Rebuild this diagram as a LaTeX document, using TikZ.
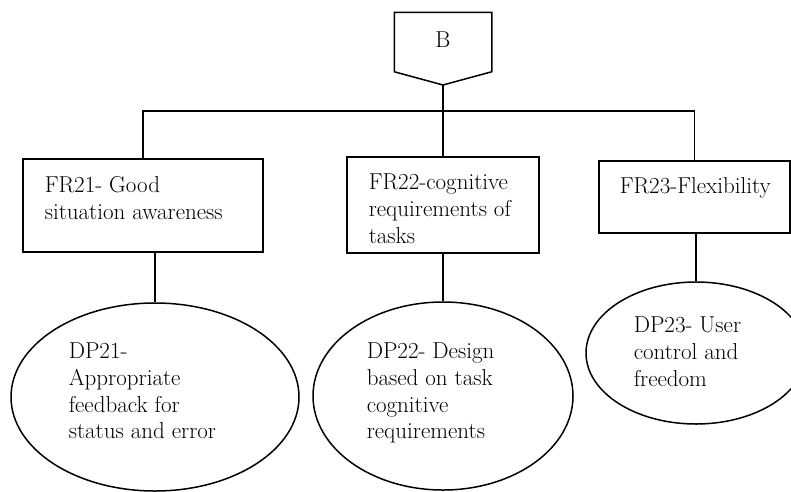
\documentclass[tikz,border=0pt]{standalone}
\usetikzlibrary{shapes.geometric}

\begin{document}
\begin{tikzpicture}[x=1pt, y=-1pt, line width=1.5pt,
  frbox/.style={draw, rectangle, inner sep=0pt},
  dpell/.style={draw, ellipse, inner sep=0pt},
  lbl/.style={inner sep=0pt, anchor=north west, align=left,
    font=\fontsize{23}{26.8}\selectfont}]
\useasboundingbox (0,0) rectangle (791,491);

% top block
\node[inner sep=0pt, minimum width=96pt, minimum height=58pt, text depth=5pt,
  font=\fontsize{23}{26.8}\selectfont] (b) at (443,42) {B};
\coordinate (btip) at (443,85);
\draw (b.north west) -- (b.north east) -- (b.south east) -- (btip)
  -- (b.south west) -- cycle;
\coordinate (bus) at (443,111);

% functional requirements
\node[frbox, minimum width=240pt, minimum height=93pt] (fr21) at (143,205.5) {};
\node[frbox, minimum width=192pt, minimum height=96pt] (fr22) at (443,205) {};
\node[frbox, minimum width=191pt, minimum height=72pt] (fr23) at (694.5,197) {};
\node[lbl] (fr21t) at (44,176) {FR21- Good\\situation awareness};
\node[lbl] (fr22t) at (368,173) {FR22-cognitive\\requirements of\\tasks};
\node[lbl] (fr23t) at (619,177) {FR23-Flexibility};

% design parameters
\node[dpell, minimum width=288pt, minimum height=188pt] (dp21) at (155,397) {};
\node[dpell, minimum width=260pt, minimum height=188pt] (dp22) at (443,396) {};
\node[dpell, minimum width=220pt, minimum height=142pt] (dp23) at (696,353) {};
\node[lbl] (dp21t) at (68,342) {DP21-\\Appropriate\\feedback for\\status and error};
\node[lbl] (dp22t) at (366,342) {DP22- Design\\based on task\\cognitive\\requirements};
\node[lbl] (dp23t) at (633,316) {DP23- User\\control and\\freedom};

% connectors
\draw (btip) -- (fr22.north);
\draw (fr21.north) -- (fr21.north |- bus) -- (fr23.north |- bus) -- (fr23.north);
\draw (dp21.north) -- (dp21.north |- fr21.south);
\draw (dp22.north) -- (fr22.south);
\draw (dp23.north) -- (dp23.north |- fr23.south);
\end{tikzpicture}
\end{document}
